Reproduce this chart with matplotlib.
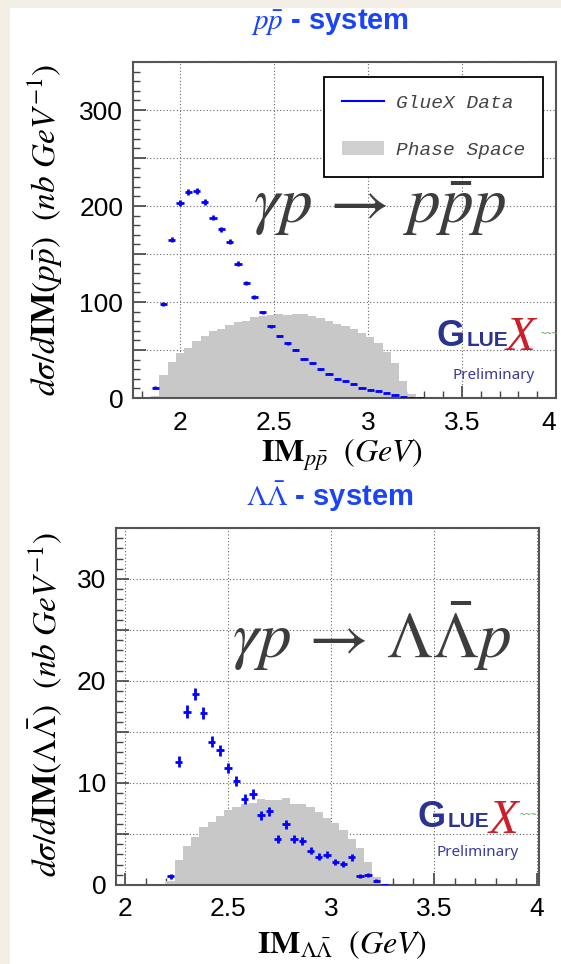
import numpy as np
import matplotlib
matplotlib.use('Agg')
import matplotlib.pyplot as plt
from matplotlib.ticker import MultipleLocator, FuncFormatter
from matplotlib.lines import Line2D
from matplotlib.patches import Patch, Rectangle

plt.rcParams['mathtext.fontset'] = 'stix'
plt.rcParams['font.family'] = ['Liberation Sans', 'DejaVu Sans']

# p pbar system: bin centres (GeV), data, errors, phase space
pp_mass = [1.868, 1.912, 1.956, 2.000, 2.044, 2.088, 2.132, 2.176, 2.220, 2.264,
           2.308, 2.352, 2.396, 2.440, 2.484, 2.528, 2.572, 2.616, 2.660, 2.704,
           2.748, 2.792, 2.836, 2.880, 2.924, 2.968, 3.012, 3.056, 3.100, 3.144,
           3.188, 3.232, 3.276]
pp_data = [10.8, 98, 165, 203, 215, 216, 204, 188, 176, 163,
           140, 120, 105, 89.5, 74.8, 64.7, 57, 50, 40.6, 36.7,
           30, 25.5, 20.3, 17.8, 15, 10.8, 8.7, 7, 5.6, 3.5,
           1.2, 0.4, 0.1]
pp_err = [1.2, 2.5, 3, 3.2, 3.2, 3.2, 3, 2.8, 2.6, 2.4,
          2.2, 2, 1.8, 1.6, 1.5, 1.4, 1.3, 1.2, 1.1, 1,
          1, 0.9, 0.8, 0.8, 0.7, 0.6, 0.6, 0.5, 0.5, 0.4,
          0.3, 0.2, 0.1]
pp_phase = [1.7, 23.8, 37, 46.5, 51.7, 59.4, 65, 70, 72, 76,
            79, 80.4, 84, 85, 86, 87.8, 86.7, 87, 87.8, 85,
            83, 79.7, 77.3, 74.5, 72, 67.5, 63.3, 57.7, 47.6, 36,
            17.8, 4.5, 0]

# Lambda Lambdabar system
ll_mass = [2.22, 2.26, 2.30, 2.34, 2.38, 2.42, 2.46, 2.50, 2.54, 2.58,
           2.62, 2.66, 2.70, 2.74, 2.78, 2.82, 2.86, 2.90, 2.94, 2.98,
           3.02, 3.06, 3.10, 3.14, 3.18, 3.22, 3.26]
ll_data = [0.84, 12.1, 17.0, 18.7, 16.9, 14.06, 13.2, 11.5, 10.2, 8.4,
           8.9, 6.85, 7.24, 4.48, 5.94, 4.48, 4.35, 3.38, 2.79, 2.95,
           2.24, 2.08, 2.73, 0.84, 0.94, 0.42, 0.03]
ll_err = [0.25, 0.5, 0.6, 0.6, 0.6, 0.55, 0.55, 0.5, 0.5, 0.5,
          0.5, 0.45, 0.45, 0.4, 0.45, 0.4, 0.4, 0.35, 0.35, 0.35,
          0.3, 0.3, 0.35, 0.2, 0.2, 0.15, 0.05]
ll_phase = [0.35, 2.43, 3.83, 4.68, 5.68, 6.17, 6.72, 7.34, 7.66, 7.92,
            8.05, 8.44, 8.31, 8.38, 8.5, 7.92, 7.92, 7.63, 7.11, 6.59,
            6.04, 5.39, 4.51, 3.6, 2.24, 0.8, 0]

BLUE = '#0000ff'
TITLE_BLUE = '#1a44f5'
GRAY = '#c8c8c8'


def edges_of(centres):
    c = np.asarray(centres)
    w = c[1] - c[0]
    return np.append(c - w / 2, c[-1] + w / 2)


def style_axes(ax, xlim, ylim, ymajor, ystep, yminor):
    ax.set_xlim(*xlim)
    ax.set_ylim(*ylim)
    ax.set_facecolor('white')
    ax.xaxis.set_major_locator(MultipleLocator(0.5))
    ax.xaxis.set_minor_locator(MultipleLocator(0.1))
    ax.yaxis.set_major_locator(MultipleLocator(ymajor))
    ax.yaxis.set_minor_locator(MultipleLocator(yminor))
    ax.yaxis.set_major_formatter(FuncFormatter(
        lambda v, p: '%g' % v if abs(v / ystep - round(v / ystep)) < 1e-6 else ''))
    ax.xaxis.set_major_formatter(FuncFormatter(lambda v, p: '%g' % v))
    ax.tick_params(which='both', direction='in', top=False, right=False,
                   labelsize=19, color='#444', labelcolor='black')
    ax.tick_params(which='major', length=9, width=1.2)
    ax.tick_params(which='minor', length=5, width=1)
    ax.tick_params(axis='y', pad=7)
    ax.tick_params(axis='x', pad=9)
    ax.grid(True, which='major', linestyle=(0, (1, 2)), color='#666', linewidth=0.8)
    ax.set_axisbelow(True)
    for s in ax.spines.values():
        s.set_color('#555')
        s.set_linewidth(1.5)


def logo(ax, joint, x, wave, prelim):
    # "G" ends where "LUE" starts
    ax.text(*joint, 'G', transform=ax.transAxes, ha='right', va='baseline',
            fontsize=26, fontweight='bold', color='#2a3490', zorder=5)
    ax.text(joint[0] + 0.003, joint[1], 'LUE', transform=ax.transAxes, ha='left',
            va='baseline', fontsize=15, fontweight='bold', color='#2a3490', zorder=5)
    ax.text(*wave, '~~~', transform=ax.transAxes, ha='center', va='center',
            fontsize=7, color='#5aa85a', family='DejaVu Sans Mono', zorder=5)
    ax.text(*x, 'X', transform=ax.transAxes, ha='center', va='center',
            fontsize=35, style='italic', family='Liberation Serif',
            color='#cc1f2a', zorder=6)
    ax.text(*prelim, 'Preliminary', transform=ax.transAxes, ha='center',
            va='center', fontsize=11, family='Noto Sans', color='#3b3b9c', zorder=5)


fig = plt.figure(figsize=(5.61, 9.64), dpi=100)
fig.patch.set_facecolor('#f3efe7')
fig.add_artist(Rectangle((10 / 561, 0), 1, 1 - 8 / 964, transform=fig.transFigure,
                         facecolor='white', edgecolor='none', zorder=0))

# ---- top panel
ax1 = fig.add_axes([133 / 561, 1 - 398 / 964, 423 / 561, 336 / 964])
style_axes(ax1, (1.75, 4.0), (0, 350), 50, 100, 10)
ax1.stairs(pp_phase, edges_of(pp_mass), fill=True, color=GRAY, zorder=1)
ax1.errorbar(pp_mass, pp_data, xerr=0.0195, yerr=pp_err, fmt='none',
             ecolor=BLUE, elinewidth=2, capsize=0, zorder=3)
ax1.text(0.582, 0.565, r'$\gamma p\,\rightarrow\,p\bar{p}p$', transform=ax1.transAxes,
         ha='center', va='center', fontsize=47, color='#3d3d3d', zorder=4)
handles = [Line2D([], [], color=BLUE, lw=1.5), Patch(facecolor='#d0d0d0', edgecolor='none')]
leg = ax1.legend(handles, ['GlueX Data', 'Phase Space'], loc='upper right',
                 bbox_to_anchor=(0.969, 0.955), borderaxespad=0,
                 prop={'family': 'Liberation Mono', 'style': 'italic', 'size': 14},
                 fancybox=False, framealpha=1, edgecolor='black', borderpad=0.9,
                 labelspacing=1.5, handlelength=2.2, handletextpad=0.6)
leg.get_frame().set_linewidth(1.3)
for t in leg.get_texts():
    t.set_color('#444')
logo(ax1, (0.785, 0.155), (0.915, 0.18), (0.985, 0.19), (0.853, 0.068))

# ---- bottom panel
ax2 = fig.add_axes([116 / 561, 1 - 885 / 964, 423 / 561, 357 / 964])
style_axes(ax2, (1.955, 4.01), (0, 35), 5, 10, 1)
ax2.stairs(ll_phase, edges_of(ll_mass), fill=True, color=GRAY, zorder=1)
ax2.errorbar(ll_mass, ll_data, xerr=0.018, yerr=ll_err, fmt='none',
             ecolor=BLUE, elinewidth=2, capsize=0, zorder=3)
ax2.text(0.605, 0.695, r'$\gamma p\,\rightarrow\,\Lambda\bar{\Lambda}p$', transform=ax2.transAxes,
         ha='center', va='center', fontsize=47, color='#3d3d3d', zorder=4)
logo(ax2, (0.78, 0.162), (0.915, 0.18), (0.975, 0.195), (0.854, 0.09))

# ---- titles and axis labels
fig.text(0.588, 0.977, r'$p\bar{p}$ - system', ha='center', va='center',
         fontsize=21, fontweight='bold', color=TITLE_BLUE)
fig.text(0.588, 1 - 497 / 964, r'$\Lambda\bar{\Lambda}$ - system', ha='center', va='center',
         fontsize=21, fontweight='bold', color=TITLE_BLUE)
fig.text(342 / 561, 1 - 455 / 964, r'$\mathbf{IM}_{p\bar{p}}\ \ (GeV)$', ha='center',
         va='center', fontsize=23)
fig.text(342 / 561, 1 - 945 / 964, r'$\mathbf{IM}_{\Lambda\bar{\Lambda}}\ \ (GeV)$', ha='center',
         va='center', fontsize=23)
fig.text(45 / 561, 1 - 230 / 964, r'$d\sigma/d\mathbf{IM}(p\bar{p})\ \ (nb\ GeV^{-1})$',
         rotation=90, ha='center', va='center', fontsize=24)
fig.text(45 / 561, 1 - 705 / 964, r'$d\sigma/d\mathbf{IM}(\Lambda\bar{\Lambda})\ \ (nb\ GeV^{-1})$',
         rotation=90, ha='center', va='center', fontsize=24)

# keep the last label of the top axis inside the picture
fig.canvas.draw()
for lab in ax1.get_xticklabels():
    if lab.get_text() == '4':
        lab.set_horizontalalignment('right')

fig.savefig('out.png', dpi=100, facecolor=fig.get_facecolor())
